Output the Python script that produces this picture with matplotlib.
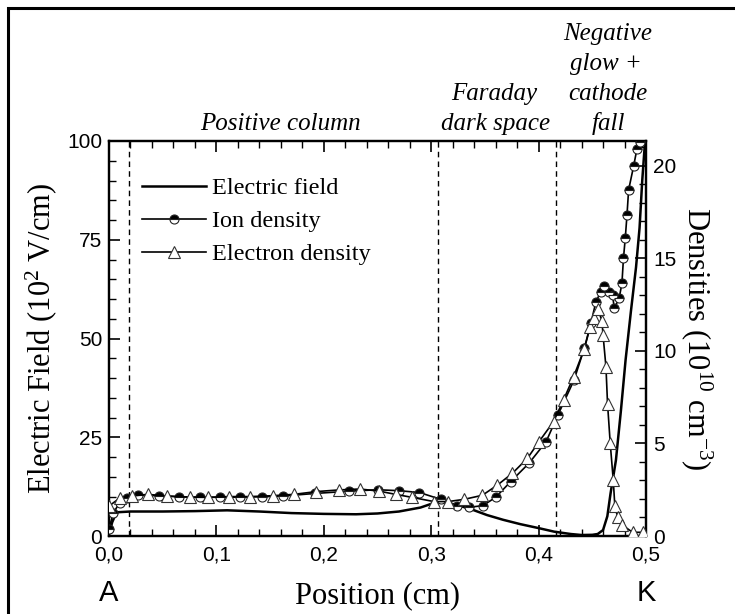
import numpy as np
import matplotlib
matplotlib.use("Agg")
import matplotlib.pyplot as plt
from matplotlib.ticker import MultipleLocator, FuncFormatter
from matplotlib.patches import Rectangle

plt.rcParams['mathtext.fontset'] = 'custom'
plt.rcParams['mathtext.rm'] = 'Liberation Serif'
plt.rcParams['mathtext.it'] = 'Liberation Serif:italic'

# electric field (10^2 V/cm) vs position (cm)
field_x = [0.0, 0.003, 0.007, 0.02, 0.05, 0.08, 0.11, 0.14, 0.17, 0.2, 0.23, 0.25,
           0.27, 0.29, 0.305, 0.315, 0.325, 0.34, 0.352, 0.367, 0.383, 0.4, 0.4145,
           0.43, 0.44, 0.45, 0.455, 0.46, 0.464, 0.467, 0.472, 0.4767, 0.481, 0.486,
           0.4907, 0.494, 0.4965, 0.499]
field_y = [0.5, 3.5, 6.0, 6.2, 6.2, 6.3, 6.5, 6.2, 5.8, 5.6, 5.5, 5.7,
           6.2, 7.2, 8.6, 8.4, 7.8, 6.5, 5.3, 4.1, 3.0, 2.0, 1.1,
           0.5, 0.25, 0.3, 0.5, 1.5, 5.0, 10.8, 19.2, 31.9, 44.6, 57.0,
           68.0, 78.0, 90.0, 99.5]

# ion density (10^10 cm^-3)
ion_x = [0.0, 0.004, 0.010, 0.017, 0.027, 0.047, 0.065, 0.085, 0.103, 0.122, 0.142,
         0.162, 0.192, 0.223, 0.25, 0.27, 0.289, 0.309, 0.324, 0.335, 0.348, 0.36,
         0.374, 0.391, 0.407, 0.418, 0.433, 0.4425, 0.4487, 0.4534, 0.458, 0.461,
         0.4658, 0.469, 0.4704, 0.475, 0.4776, 0.479, 0.4807, 0.4823, 0.4838,
         0.4885, 0.4915, 0.494]
ion_y = [0.4, 1.25, 1.8, 2.05, 2.2, 2.18, 2.12, 2.1, 2.09, 2.1, 2.12,
         2.16, 2.3, 2.42, 2.5, 2.45, 2.35, 1.98, 1.6, 1.55, 1.64, 2.09,
         2.94, 3.93, 5.1, 6.54, 8.43, 10.14, 11.5, 12.67, 13.2, 13.5,
         13.2, 13.0, 12.3, 12.85, 13.66, 15.0, 16.1, 17.35, 18.7,
         20.0, 20.9, 21.3]

# electron density (10^10 cm^-3)
ele_x = [0.0, 0.01, 0.021, 0.036, 0.054, 0.075, 0.092, 0.112, 0.1315, 0.153, 0.172,
         0.193, 0.214, 0.2335, 0.251, 0.267, 0.282, 0.3026, 0.3156, 0.3306, 0.3476,
         0.3616, 0.3756, 0.3896, 0.4004, 0.4139, 0.4232, 0.4325, 0.4425, 0.448,
         0.4518, 0.4555, 0.459, 0.46, 0.4627, 0.4642, 0.4667, 0.4695, 0.471,
         0.4735, 0.478, 0.4875, 0.497]
ele_y = [1.62, 2.05, 2.16, 2.25, 2.16, 2.1, 2.09, 2.13, 2.13, 2.18, 2.25,
         2.4, 2.49, 2.54, 2.43, 2.25, 2.09, 1.86, 1.86, 1.98, 2.2,
         2.75, 3.39, 4.2, 5.1, 6.18, 7.35, 8.6, 10.1, 11.3,
         11.77, 12.25, 11.6, 10.86, 9.15, 7.14, 5.0, 3.03, 1.62,
         1.04, 0.59, 0.2, 0.2]

region_edges = [0.0187, 0.306, 0.416]

W, H = 735, 614
fig = plt.figure(figsize=(W / 100, H / 100), dpi=100)
L, R, T, B = 109, 646, 141, 536
ax = fig.add_axes([L / W, 1 - B / H, (R - L) / W, (B - T) / H])
ax2 = ax.twinx()

for xe in region_edges:
    ax.axvline(xe, color='black', lw=1.0, dashes=(4, 3), zorder=1)

ax.plot(field_x, field_y, color='black', lw=1.8, label='Electric field', zorder=3)
ion_line, = ax2.plot(ion_x, ion_y, color='black', lw=1.2, marker='o', ms=6.5,
                     fillstyle='top', markerfacecolor='black',
                     markerfacecoloralt='white', markeredgecolor='#222222',
                     markeredgewidth=0.8, label='Ion density', zorder=4)
ele_line, = ax2.plot(ele_x, ele_y, color='black', lw=1.2, marker='^', ms=8,
                     markerfacecolor='white', markeredgecolor='#333333',
                     markeredgewidth=0.8, label='Electron density', zorder=5)

ax.set_xlim(0, 0.5)
ax.set_ylim(0, 100)
ax2.set_ylim(0, 21.35)

ax.xaxis.set_major_locator(MultipleLocator(0.1))
ax.xaxis.set_minor_locator(MultipleLocator(0.02))
ax.yaxis.set_major_locator(MultipleLocator(25))
ax.yaxis.set_minor_locator(MultipleLocator(5))
ax2.yaxis.set_major_locator(MultipleLocator(5))
ax2.yaxis.set_minor_locator(MultipleLocator(1))
ax.xaxis.set_major_formatter(FuncFormatter(lambda v, p: ('%.1f' % v).replace('.', ',')))

for a in (ax, ax2):
    a.tick_params(which='major', direction='in', length=8, width=1.2)
    a.tick_params(which='minor', direction='in', length=5, width=1.0)
    for s in a.spines.values():
        s.set_linewidth(1.6)
ax.tick_params(top=True, which='both')
ax.tick_params(axis='x', pad=7)
ax.tick_params(axis='y', pad=5)
ax2.tick_params(axis='y', pad=5)
for lab in ax.get_xticklabels() + ax.get_yticklabels() + ax2.get_yticklabels():
    lab.set_fontfamily('Liberation Sans')
    lab.set_fontsize(15)

serif = 'Liberation Serif'
ax.set_xlabel('Position (cm)', fontfamily=serif, fontsize=22, labelpad=12)
ax.set_ylabel('Electric Field (10$^2$ V/cm)', fontfamily=serif, fontsize=22, labelpad=6)
ax2.set_ylabel('Densities (10$^{10}$ cm$^{-3}$)', fontfamily=serif, fontsize=22,
               rotation=270, labelpad=28)

fig.text(L / W, 1 - 593 / H, 'A', ha='center', va='center', fontfamily='Liberation Sans', fontsize=21)
fig.text(R / W, 1 - 593 / H, 'K', ha='center', va='center', fontfamily='Liberation Sans', fontsize=21)

ann = {'fontfamily': serif, 'fontstyle': 'italic', 'fontsize': 18, 'ha': 'center', 'va': 'baseline'}
fig.text(280 / W, 1 - 130 / H, 'Positive column', **ann)
fig.text(494 / W, 1 - 100 / H, 'Faraday', **ann)
fig.text(496 / W, 1 - 130 / H, 'dark space', **ann)
fig.text(608 / W, 1 - 40 / H, 'Negative', **ann)
fig.text(606 / W, 1 - 70 / H, 'glow +', **ann)
fig.text(608 / W, 1 - 100 / H, 'cathode', **ann)
fig.text(608 / W, 1 - 130 / H, 'fall', **ann)

field_h, = ax.plot([], [], color='black', lw=1.8)
leg = ax.legend([field_h, ion_line, ele_line], ['Electric field', 'Ion density', 'Electron density'],
                loc='upper left', bbox_to_anchor=(0.061, 0.908), frameon=False,
                prop={'family': serif, 'size': 17.5}, handlelength=2.65, handletextpad=0.25,
                borderpad=0, borderaxespad=0, labelspacing=0.45, numpoints=1)

fig.patches.append(Rectangle((8 / W, -0.02), 1.1, 1 - 8 / H + 0.02, transform=fig.transFigure,
                             fill=False, edgecolor='black', lw=2.2))

fig.savefig('out.png', dpi=100)
